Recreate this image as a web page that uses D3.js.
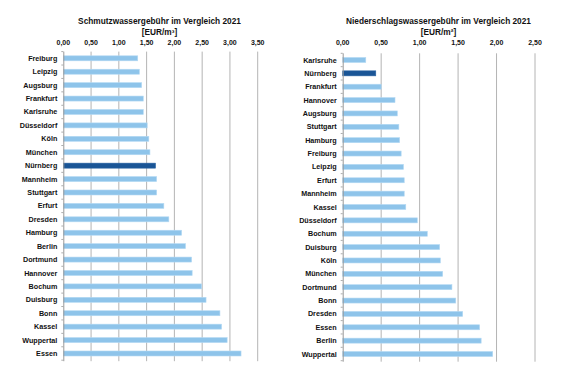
<!DOCTYPE html>
<html>
<head>
<meta charset="utf-8">
<script src="https://cdn.jsdelivr.net/npm/d3@7"></script>
<style>
  body { margin: 0; background: #fff; }
  svg { display: block; font-family: "Liberation Sans", Arial, sans-serif; font-weight: bold; }
</style>
</head>
<body>
<div id="chart"></div>
<script>
"use strict";

// Schmutzwasser
var leftCities = ["Freiburg", "Leipzig", "Augsburg", "Frankfurt", "Karlsruhe", "Düsseldorf", "Köln", "München",
  "Nürnberg", "Mannheim", "Stuttgart", "Erfurt", "Dresden", "Hamburg", "Berlin", "Dortmund", "Hannover",
  "Bochum", "Duisburg", "Bonn", "Kassel", "Wuppertal", "Essen"];
var leftValues = [1.34, 1.37, 1.41, 1.44, 1.44, 1.51, 1.54, 1.56, 1.66, 1.68, 1.68, 1.81, 1.90, 2.13, 2.20,
  2.31, 2.32, 2.49, 2.57, 2.82, 2.85, 2.95, 3.20];
var leftTicks = [0, 0.5, 1, 1.5, 2, 2.5, 3, 3.5];

// Niederschlagswasser
var rightCities = ["Karlsruhe", "Nürnberg", "Frankfurt", "Hannover", "Augsburg", "Stuttgart", "Hamburg",
  "Freiburg", "Leipzig", "Erfurt", "Mannheim", "Kassel", "Düsseldorf", "Bochum", "Duisburg", "Köln",
  "München", "Dortmund", "Bonn", "Dresden", "Essen", "Berlin", "Wuppertal"];
var rightValues = [0.30, 0.43, 0.50, 0.68, 0.71, 0.73, 0.74, 0.76, 0.79, 0.80, 0.80, 0.82, 0.97, 1.10,
  1.26, 1.27, 1.30, 1.42, 1.47, 1.56, 1.78, 1.80, 1.95];
var rightTicks = [0, 0.5, 1, 1.5, 2, 2.5];

var highlight = "Nürnberg";

var svg = d3.select("#chart").append("svg")
  .attr("width", 570)
  .attr("height", 380);

var fmt = function(v) { return d3.format(".2f")(v).replace(".", ","); };

function drawChart(opts) {
  var g = svg.append("g");

  var x = d3.scaleLinear()
    .domain([0, opts.ticks[opts.ticks.length - 1]])
    .range([opts.x0, opts.x1]);

  var y = d3.scaleBand()
    .domain(opts.cities)
    .range([opts.y0, opts.y1]);

  // titles
  g.append("text")
    .attr("x", opts.titleX)
    .attr("y", 24)
    .attr("text-anchor", "middle")
    .attr("font-size", "8.3px")
    .attr("fill", "#111")
    .text(opts.title);
  g.append("text")
    .attr("x", opts.titleX)
    .attr("y", 34.5)
    .attr("text-anchor", "middle")
    .attr("font-size", "8.3px")
    .attr("fill", "#111")
    .text(opts.unit);

  // gridlines
  g.selectAll(".grid")
    .data(opts.ticks.slice(1))
    .enter().append("line")
    .attr("x1", function(d) { return x(d); })
    .attr("x2", function(d) { return x(d); })
    .attr("y1", opts.y0)
    .attr("y2", opts.y1 + 1)
    .attr("stroke", "#b4b4b4")
    .attr("stroke-width", 1);

  // top tick labels
  g.selectAll(".tick-label")
    .data(opts.ticks)
    .enter().append("text")
    .attr("x", function(d) { return x(d); })
    .attr("y", 45)
    .attr("text-anchor", "middle")
    .attr("font-size", "7px")
    .attr("fill", "#111")
    .text(fmt);

  // bars
  var barH = 5;
  g.selectAll(".bar")
    .data(opts.cities)
    .enter().append("rect")
    .attr("x", x(0))
    .attr("y", function(d) { return y(d) + y.bandwidth() / 2 - barH / 2; })
    .attr("width", function(d, i) { return x(opts.values[i]) - x(0); })
    .attr("height", barH)
    .attr("fill", function(d) { return d === highlight ? "#1a5596" : "#8ec4ea"; })
    .attr("stroke", function(d) { return d === highlight ? "#2a64a3" : "#b4d9f3"; })
    .attr("stroke-width", 0.6);

  // category labels
  g.selectAll(".cat")
    .data(opts.cities)
    .enter().append("text")
    .attr("x", x(0) - 6)
    .attr("y", function(d) { return y(d) + y.bandwidth() / 2; })
    .attr("dy", "0.35em")
    .attr("text-anchor", "end")
    .attr("font-size", "7.2px")
    .attr("fill", "#111")
    .text(function(d) { return d; });

  // axis line + ticks at band boundaries
  g.append("line")
    .attr("x1", x(0) + 0.5)
    .attr("x2", x(0) + 0.5)
    .attr("y1", opts.y0)
    .attr("y2", opts.y1 + 1)
    .attr("stroke", "#999")
    .attr("stroke-width", 1);

  var bounds = opts.cities.map(function(d) { return y(d); }).concat([opts.y1]);
  g.selectAll(".ytick")
    .data(bounds)
    .enter().append("line")
    .attr("x1", x(0) - 2)
    .attr("x2", x(0))
    .attr("y1", function(d) { return d; })
    .attr("y2", function(d) { return d; })
    .attr("stroke", "#999")
    .attr("stroke-width", 0.8);
}

drawChart({
  cities: leftCities, values: leftValues, ticks: leftTicks,
  x0: 63.3, x1: 257.7, y0: 51.6, y1: 360.2,
  titleX: 159.5,
  title: "Schmutzwassergebühr im Vergleich 2021",
  unit: "[EUR/m³]"
});

drawChart({
  cities: rightCities, values: rightValues, ticks: rightTicks,
  x0: 342.7, x1: 535, y0: 53.3, y1: 360.7,
  titleX: 438.5,
  title: "Niederschlagswassergebühr im Vergleich 2021",
  unit: "[EUR/m²]"
});
</script>
</body>
</html>
